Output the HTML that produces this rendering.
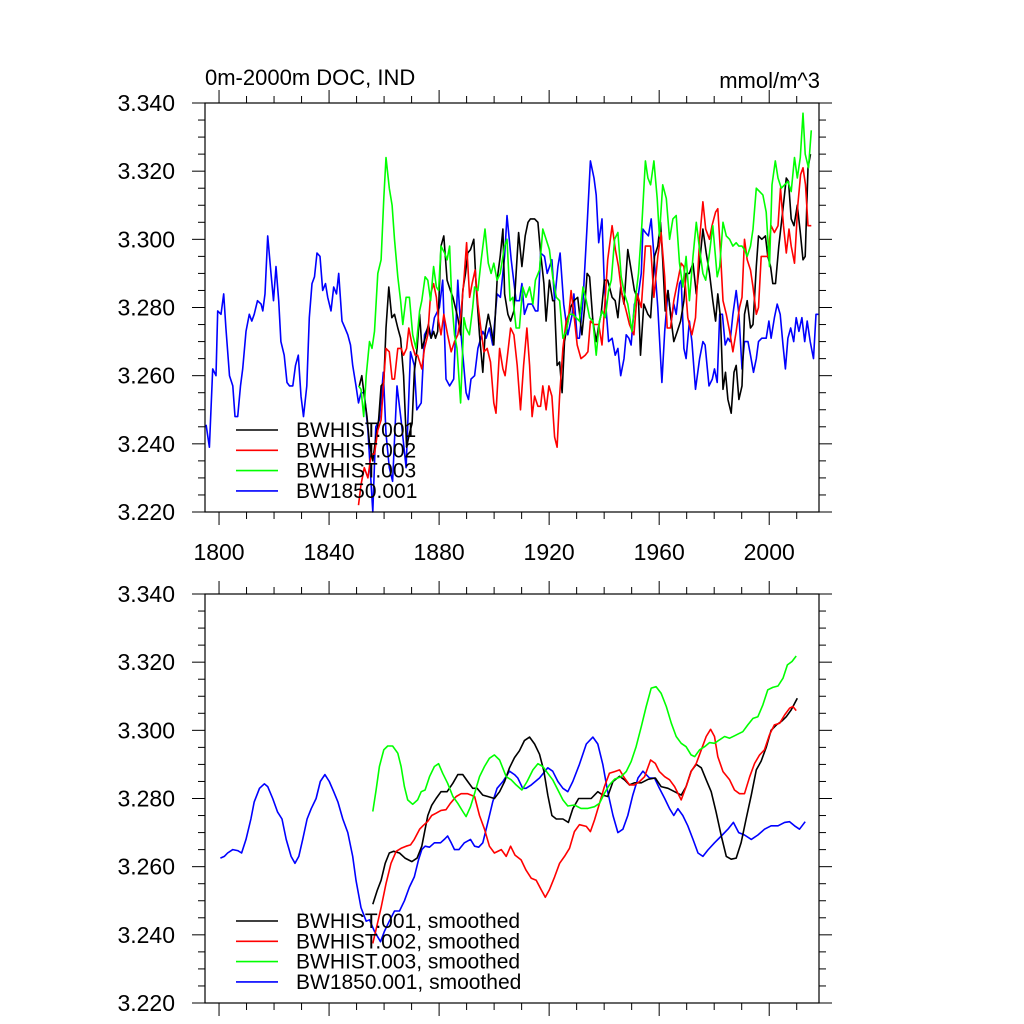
<!DOCTYPE html>
<html><head><meta charset="utf-8"><style>
html,body{margin:0;padding:0;background:#fff;}
svg{display:block;font-family:"Liberation Sans",Arial,sans-serif;}
</style></head><body>
<svg id="chart" width="1024" height="1024" viewBox="0 0 1024 1024" xmlns="http://www.w3.org/2000/svg"></svg>
<script>
// ---- data: annual (top panel) ----
const blueYears=[1795.3,1796.5,1797.7,1798.9,1799.5,1800.7,1801.7,1802.5,1803.8,1805,1805.8,1806.8,1807.8,1808.6,1809.8,1811,1811.9,1812.8,1814,1815.3,1815.9,1816.7,1817.7,1818.9,1819.8,1820.7,1821.7,1822.5,1823.7,1824.7,1825.6,1826.8,1827.8,1828.8,1829.8,1830.7,1831.9,1832.8,1833.8,1834.7,1835.6,1836.7,1837.7,1838.7,1839.5,1840.7,1841.7,1842.7,1843.5,1844.7,1845.8,1846.8,1847.8,1848.6,1849.8,1850.7,1851.6,1852.8,1854.1,1855.9,1857,1858.3,1859.7,1860.7,1861.9,1863.1,1864.7,1866.2,1868,1869.6,1871,1871.9,1873.5,1874.7,1875.9,1877.1,1878.3,1880.1,1881.3,1882.5,1883.8,1885.3,1886.8,1888,1889.8,1890.7,1891.6,1892.9,1894.1,1895.9,1897.1,1898.3,1899.5,1901.1,1902.3,1903.8,1904.7,1906.2,1908,1909.2,1910.1,1911,1912.3,1913.8,1915,1915.9,1916.9,1918.3,1919.3,1921,1922,1923.2,1924,1925.3,1926.8,1928.4,1929,1930.2,1931,1932.3,1933.8,1935,1936.3,1937.1,1938,1939.2,1940.1,1941.6,1942.9,1944,1945,1946,1947.2,1948,1949,1949.8,1951,1952.3,1953.5,1954.1,1955,1956.1,1957.1,1958.3,1959.5,1961,1962,1963.2,1964.4,1965.3,1966.2,1967.4,1968,1969,1969.8,1971,1971.9,1973.2,1974.7,1975.9,1976.7,1978.1,1979.3,1980.1,1981.1,1982,1983,1984,1985,1985.8,1986.8,1988,1989,1990.1,1991,1992.3,1993.2,1994.3,1995.3,1996.1,1997.3,1998.9,1999.9,2000.7,2001.9,2002.9,2004,2005,2005.9,2006.8,2007.8,2008.9,2009.8,2010.8,2011.9,2012.9,2013.8,2014.9,2016.1,2017,2017.9];
const blueVals=[3.2456,3.239,3.262,3.260,3.279,3.278,3.284,3.274,3.260,3.257,3.248,3.248,3.257,3.262,3.273,3.278,3.276,3.278,3.282,3.281,3.279,3.284,3.301,3.290,3.282,3.292,3.282,3.270,3.266,3.258,3.257,3.257,3.263,3.266,3.254,3.248,3.257,3.277,3.287,3.289,3.296,3.295,3.285,3.287,3.283,3.279,3.286,3.284,3.290,3.276,3.274,3.272,3.269,3.263,3.257,3.252,3.255,3.255,3.244,3.220,3.245,3.247,3.261,3.243,3.233,3.229,3.257,3.247,3.233,3.267,3.263,3.250,3.252,3.272,3.274,3.271,3.277,3.280,3.288,3.259,3.257,3.259,3.288,3.272,3.255,3.253,3.259,3.260,3.268,3.273,3.271,3.274,3.269,3.284,3.283,3.295,3.307,3.294,3.282,3.282,3.287,3.278,3.281,3.281,3.279,3.279,3.296,3.295,3.290,3.294,3.282,3.292,3.296,3.281,3.272,3.278,3.284,3.271,3.271,3.282,3.304,3.323,3.318,3.313,3.299,3.306,3.286,3.270,3.271,3.266,3.268,3.260,3.265,3.272,3.271,3.269,3.281,3.283,3.290,3.303,3.302,3.301,3.306,3.293,3.280,3.258,3.273,3.285,3.276,3.281,3.278,3.287,3.288,3.268,3.265,3.276,3.270,3.256,3.265,3.270,3.269,3.257,3.259,3.262,3.258,3.278,3.278,3.269,3.271,3.270,3.278,3.285,3.278,3.262,3.270,3.270,3.266,3.261,3.265,3.270,3.271,3.271,3.276,3.271,3.277,3.281,3.278,3.269,3.262,3.271,3.274,3.270,3.277,3.273,3.277,3.270,3.276,3.270,3.265,3.278,3.278];

const blackYears=[1851.0,1851.9,1852.8,1853.8,1854.7,1855.9,1856.7,1858,1858.9,1859.9,1860.7,1861.7,1862.8,1863.8,1865,1866,1867.1,1868.2,1869.2,1870.2,1871,1872,1872.9,1873.8,1874.9,1876.1,1877.1,1878,1878.7,1879.5,1880.7,1881.7,1882.9,1884.1,1885,1886.2,1886.8,1887.8,1888.6,1889.6,1890.4,1891.4,1892.6,1893.5,1894.7,1895.9,1896.8,1897.9,1898.9,1899.9,1901.1,1902.2,1903.2,1903.8,1905,1906,1907.2,1908,1908.9,1910.1,1911.3,1912.3,1913.2,1914.7,1915.9,1916.9,1918.1,1918.9,1920.1,1921.3,1921.9,1922.9,1923.8,1924.7,1925.6,1926.6,1927.8,1929,1930.4,1931.9,1932.9,1933.8,1934.7,1935.9,1937.1,1938.1,1938.9,1940.1,1941.3,1942.9,1944,1945,1946,1947.2,1948.6,1949.6,1951,1952.5,1953.2,1954.4,1955.9,1956.9,1958.3,1959.5,1960.5,1961.3,1962.2,1963.2,1964.4,1965.3,1966.6,1967.8,1969,1969.8,1971,1972.3,1973.5,1974.7,1975.9,1977.1,1978.3,1979.5,1980.5,1981.3,1982.3,1983.2,1984.1,1985,1986.2,1987.2,1988,1989,1990.1,1991,1992,1993.2,1994.1,1995.3,1996.1,1997.3,1998.6,1999.5,2000.5,2001.3,2002.3,2003.5,2005,2006.2,2007,2008,2009,2010.2,2011.3,2012.3,2013.1,2014.1,2015.0];
const blackVals=[3.257,3.260,3.254,3.248,3.240,3.235,3.240,3.247,3.257,3.258,3.274,3.286,3.277,3.278,3.274,3.271,3.260,3.239,3.243,3.246,3.261,3.268,3.278,3.268,3.271,3.275,3.271,3.273,3.271,3.273,3.298,3.301,3.288,3.285,3.283,3.279,3.277,3.272,3.285,3.290,3.296,3.297,3.300,3.286,3.272,3.261,3.273,3.278,3.274,3.269,3.288,3.295,3.303,3.284,3.278,3.276,3.279,3.290,3.302,3.292,3.301,3.305,3.306,3.306,3.305,3.296,3.287,3.276,3.288,3.282,3.282,3.263,3.264,3.255,3.270,3.275,3.280,3.282,3.283,3.272,3.280,3.290,3.289,3.276,3.270,3.275,3.278,3.288,3.288,3.283,3.282,3.277,3.286,3.281,3.297,3.292,3.285,3.282,3.266,3.281,3.278,3.277,3.295,3.298,3.305,3.294,3.279,3.285,3.276,3.270,3.273,3.276,3.282,3.290,3.290,3.293,3.284,3.293,3.303,3.296,3.290,3.282,3.276,3.284,3.277,3.256,3.261,3.253,3.249,3.261,3.263,3.253,3.257,3.278,3.282,3.274,3.275,3.292,3.301,3.300,3.301,3.295,3.292,3.287,3.287,3.298,3.309,3.318,3.317,3.306,3.304,3.310,3.302,3.294,3.295,3.321,3.325];

const redYears=[1850.7,1851.6,1852.8,1854.1,1855.3,1856.5,1857.7,1858.9,1859.9,1860.7,1861.9,1862.9,1863.8,1865,1866.2,1867.1,1868.2,1869,1870.2,1871.3,1872.2,1873.7,1874.7,1875.9,1876.9,1878,1879,1879.8,1880.7,1881.7,1883.1,1884.4,1885.6,1886.8,1887.8,1889,1890,1891.1,1892,1893.1,1894.1,1895.3,1896.3,1897.5,1898.7,1899.9,1900.7,1902,1903.2,1904,1905,1906,1907.2,1908.4,1909.6,1910.7,1911.9,1912.9,1913.8,1914.7,1915.9,1916.9,1917.7,1918.9,1919.9,1921,1922,1922.9,1923.8,1925,1926.2,1927.2,1928,1929,1930.2,1931.6,1933.1,1934.1,1935,1936.3,1937.1,1938,1939.2,1940.1,1941.3,1942.9,1944.1,1945.2,1946.4,1948,1949.2,1950.8,1952,1953.5,1955,1955.9,1956.9,1958.1,1959.5,1960.7,1962,1962.9,1964.1,1965.3,1966.8,1968,1969,1970.4,1971.9,1973.2,1974.7,1975.9,1976.9,1978.3,1979.2,1980.5,1981.3,1982.3,1983.2,1984.4,1985.6,1986.8,1988,1989.2,1990.1,1991,1992,1993.2,1994.1,1995.3,1996.1,1997.1,1998.3,1999.5,2000.7,2001.9,2003.2,2004.1,2005.2,2006.2,2007.2,2008,2009.2,2010.4,2011.4,2012.3,2013.2,2014.1,2015.3];
const redVals=[3.222,3.228,3.233,3.230,3.237,3.237,3.244,3.247,3.259,3.268,3.267,3.259,3.259,3.268,3.268,3.266,3.268,3.274,3.269,3.266,3.266,3.262,3.268,3.272,3.284,3.287,3.283,3.276,3.272,3.278,3.272,3.267,3.270,3.272,3.277,3.288,3.299,3.283,3.287,3.291,3.281,3.273,3.267,3.268,3.264,3.252,3.249,3.268,3.262,3.260,3.267,3.274,3.272,3.263,3.250,3.263,3.274,3.263,3.248,3.254,3.251,3.251,3.257,3.250,3.257,3.254,3.242,3.239,3.254,3.268,3.276,3.278,3.285,3.278,3.269,3.265,3.266,3.267,3.276,3.275,3.275,3.275,3.269,3.279,3.294,3.304,3.297,3.292,3.284,3.279,3.275,3.272,3.284,3.280,3.298,3.298,3.298,3.283,3.295,3.302,3.289,3.274,3.274,3.282,3.288,3.293,3.292,3.277,3.272,3.277,3.300,3.311,3.303,3.300,3.304,3.308,3.309,3.296,3.282,3.278,3.273,3.267,3.273,3.280,3.283,3.300,3.294,3.291,3.286,3.278,3.280,3.295,3.295,3.295,3.304,3.302,3.304,3.315,3.304,3.296,3.303,3.298,3.293,3.310,3.319,3.321,3.316,3.304,3.304];

const greenYears=[1850.7,1851.6,1852.6,1853.5,1854.7,1855.6,1856.5,1857.7,1858.9,1859.9,1860.7,1861.9,1862.9,1863.8,1865,1866,1866.8,1868,1869.2,1870.4,1871.6,1872.9,1873.7,1874.9,1875.9,1876.9,1878,1879,1879.8,1880.7,1882,1882.9,1883.8,1884.6,1885.6,1886.5,1887.8,1889,1889.8,1891,1892.2,1892.9,1894.1,1895.3,1896.7,1897.9,1898.9,1899.9,1901.1,1902.2,1903.8,1904.7,1905.8,1906.8,1908,1909.2,1910.4,1911.6,1912.9,1914.1,1915,1916.5,1917.7,1918.9,1920.1,1921.3,1922.6,1923.8,1925,1926.2,1927.4,1928.6,1929.8,1931,1932.3,1933.5,1934.7,1935.9,1937.1,1938.3,1939.3,1940.4,1941.6,1942.6,1943.8,1945,1946.2,1947.4,1948.6,1950.1,1951.3,1952.5,1953.7,1955,1955.9,1956.9,1958.1,1959.3,1960.1,1961.3,1962.6,1963.8,1965,1966.2,1967.4,1968.6,1969.8,1971,1972.3,1973.5,1974.7,1975.9,1976.9,1978.3,1979.5,1981.1,1982,1983.2,1984.4,1985.6,1986.8,1988,1989,1990.1,1991,1992,1993.2,1994.1,1995.3,1996.5,1997.7,1998.9,2000.1,2001,2002.2,2003.2,2004.4,2005.6,2006.8,2008,2009.2,2010.2,2011.3,2012.3,2013.1,2014.3,2015.3];
const greenVals=[3.257,3.256,3.248,3.260,3.270,3.268,3.273,3.290,3.294,3.312,3.324,3.315,3.310,3.300,3.289,3.282,3.275,3.283,3.283,3.272,3.268,3.279,3.282,3.289,3.288,3.282,3.292,3.286,3.285,3.298,3.296,3.294,3.298,3.282,3.272,3.268,3.252,3.277,3.274,3.272,3.280,3.286,3.285,3.294,3.303,3.293,3.290,3.293,3.288,3.290,3.298,3.300,3.282,3.283,3.274,3.274,3.286,3.283,3.286,3.281,3.288,3.291,3.303,3.300,3.297,3.289,3.283,3.282,3.271,3.273,3.278,3.278,3.277,3.276,3.286,3.282,3.277,3.276,3.266,3.276,3.279,3.277,3.285,3.288,3.300,3.302,3.289,3.284,3.281,3.273,3.282,3.290,3.304,3.323,3.318,3.316,3.323,3.312,3.301,3.316,3.312,3.300,3.306,3.307,3.293,3.286,3.295,3.282,3.295,3.305,3.297,3.290,3.288,3.296,3.304,3.289,3.292,3.305,3.301,3.300,3.298,3.299,3.298,3.298,3.297,3.295,3.298,3.303,3.315,3.314,3.313,3.308,3.292,3.316,3.323,3.318,3.315,3.316,3.317,3.314,3.324,3.318,3.324,3.337,3.325,3.321,3.332];

// ---- data: smoothed (bottom panel) ----
const sBlueYears=[1800.5,1801.9,1803.1,1805,1806.8,1808.2,1809.8,1811.6,1812.8,1814.7,1816.5,1817.7,1819.5,1821.3,1822.9,1824.4,1826.2,1827.6,1829,1830.4,1832,1833.5,1835.3,1836.8,1838.5,1840.1,1841.7,1843.2,1845,1846.8,1848.6,1849.8,1851.6,1853.5,1854.7,1856.5,1858.7,1860.1,1861.9,1863.8,1865.6,1867.4,1869.2,1871,1872.5,1873.7,1874.9,1876.5,1878.3,1880.5,1881.9,1883.1,1884.4,1885.6,1887.2,1889.2,1891.4,1892.9,1894.4,1895.9,1897.7,1899.5,1901.1,1903.2,1905.6,1907.4,1908.6,1910.4,1911.6,1913.5,1916.5,1919.5,1921.3,1923.2,1925,1926.8,1928.6,1931,1933.5,1935.9,1937.7,1939.5,1941.3,1943.2,1945,1946.8,1948.6,1950.4,1952.3,1954.1,1956.5,1958.3,1960.1,1962,1963.8,1965.3,1966.8,1968.6,1970.4,1972.3,1974.1,1975.9,1977.7,1980.1,1982.6,1985,1987,1988.9,1991,1993.5,1995.9,1998.3,2000.7,2003.2,2005.6,2007.4,2009.2,2011,2013.1];
const sBlueVals=[3.2625,3.263,3.264,3.265,3.2647,3.264,3.268,3.274,3.279,3.283,3.2843,3.2835,3.280,3.276,3.274,3.268,3.263,3.261,3.263,3.268,3.274,3.277,3.280,3.285,3.287,3.285,3.282,3.279,3.274,3.270,3.263,3.256,3.248,3.244,3.2444,3.241,3.238,3.241,3.244,3.247,3.247,3.250,3.254,3.257,3.262,3.265,3.266,3.2657,3.267,3.267,3.268,3.269,3.267,3.265,3.265,3.267,3.268,3.266,3.2657,3.267,3.273,3.279,3.283,3.285,3.288,3.287,3.286,3.283,3.283,3.284,3.286,3.289,3.288,3.285,3.283,3.282,3.285,3.290,3.296,3.298,3.296,3.290,3.282,3.275,3.270,3.271,3.275,3.281,3.286,3.288,3.286,3.286,3.283,3.280,3.277,3.275,3.277,3.275,3.272,3.268,3.264,3.263,3.2649,3.267,3.269,3.271,3.273,3.270,3.2693,3.268,3.2693,3.271,3.272,3.272,3.273,3.2732,3.272,3.271,3.2732];

const sBlackYears=[1855.9,1857.5,1858.9,1860.4,1861.9,1863.5,1865.6,1867.6,1870.1,1872,1873.7,1875.9,1877.3,1878.9,1880.7,1882.9,1885,1886.8,1888.6,1890.4,1892.2,1893.8,1895.9,1897.7,1900.1,1902,1903.8,1905.6,1907.4,1909.2,1911,1912.9,1914.7,1916.5,1918.1,1919.5,1921,1922.6,1925,1927,1928.6,1930.7,1932.9,1935.3,1937.7,1939.5,1941.3,1943.2,1945.6,1947.4,1949.2,1951,1953.5,1955.9,1958.6,1960.7,1963.2,1965.6,1968,1969.8,1971.6,1973.5,1975.3,1977.1,1978.9,1980.7,1982.6,1984.4,1986.2,1988,1989.8,1991.6,1993.5,1995.3,1997.1,1998.9,2000.7,2002.6,2004.4,2006.2,2008,2010.2];
const sBlackVals=[3.249,3.253,3.256,3.261,3.2640,3.2645,3.264,3.2625,3.2615,3.2625,3.266,3.275,3.278,3.280,3.282,3.282,3.2845,3.287,3.287,3.285,3.283,3.283,3.281,3.2806,3.280,3.282,3.285,3.289,3.292,3.294,3.297,3.298,3.296,3.293,3.288,3.281,3.275,3.274,3.274,3.273,3.277,3.280,3.280,3.280,3.282,3.281,3.2806,3.285,3.2865,3.2855,3.284,3.2846,3.2846,3.2856,3.286,3.2835,3.283,3.282,3.281,3.2835,3.288,3.290,3.289,3.2855,3.282,3.276,3.269,3.263,3.2622,3.2625,3.267,3.274,3.281,3.2884,3.291,3.295,3.300,3.3016,3.3026,3.304,3.306,3.3094];

const sRedYears=[1855.9,1857.5,1858.9,1860.7,1862.5,1864.4,1866.2,1868,1869.6,1871,1872.9,1874.1,1875.9,1877.3,1878.9,1880.7,1882.5,1884.1,1886.2,1888,1890.4,1892.9,1894.7,1896.5,1898.3,1900.1,1902.6,1904.4,1906,1907.6,1909.8,1911.6,1913.5,1915.3,1917.1,1918.6,1920.1,1922,1923.8,1925.6,1927.4,1929.2,1931,1933.5,1935,1936.5,1938.3,1940.1,1941.9,1943.8,1945.6,1947.4,1949.2,1951,1952.9,1954.7,1956.9,1958.6,1960.1,1962,1963.8,1965.6,1968,1969.8,1971.6,1973.5,1975.3,1977.1,1978.7,1980.1,1981.3,1983.2,1985.6,1987.4,1989.2,1991,1992.9,1994.7,1996.5,1998.3,2000.1,2001.9,2003.8,2005.6,2007.4,2008.6,2009.8];
const sRedVals=[3.2375,3.243,3.248,3.255,3.261,3.2645,3.2654,3.266,3.2664,3.268,3.271,3.272,3.2733,3.275,3.2757,3.2765,3.2767,3.2786,3.2806,3.2814,3.2814,3.2806,3.275,3.271,3.266,3.264,3.265,3.263,3.266,3.2634,3.2620,3.259,3.2566,3.256,3.2532,3.251,3.2532,3.257,3.261,3.2630,3.2654,3.2703,3.2723,3.2718,3.2703,3.2737,3.2786,3.2835,3.2874,3.2879,3.2884,3.2860,3.2840,3.284,3.285,3.2864,3.2913,3.2903,3.2879,3.2864,3.2855,3.2835,3.2796,3.2835,3.2879,3.2903,3.2943,3.2982,3.3003,3.2982,3.2923,3.2879,3.2855,3.2825,3.2814,3.2814,3.2864,3.2903,3.2928,3.2943,3.2987,3.3016,3.3021,3.3045,3.3065,3.3070,3.3058];

const sGreenYears=[1855.9,1857.1,1858.3,1859.9,1861.3,1863.1,1865,1866.2,1867.4,1868.6,1870.4,1872.2,1873.5,1874.9,1876.5,1878.3,1879.8,1881.3,1883.1,1885,1886.8,1888.6,1889.8,1891.4,1892.9,1894.7,1896.5,1898.3,1900.1,1902,1904.4,1906.2,1908,1910.1,1912,1914.1,1915.9,1917.7,1919.5,1921.3,1923.2,1925,1926.8,1929.2,1931.6,1934.1,1936.5,1938.3,1940.1,1941.9,1943.8,1946.2,1948,1949.8,1951.6,1953.5,1955.3,1957.1,1958.9,1960.7,1962.6,1964.4,1966.2,1968,1969.8,1971.6,1972.9,1974.7,1976.5,1978.3,1980.1,1981.9,1983.8,1985.6,1987.4,1988.9,1990.4,1992.2,1994.1,1995.9,1997.7,1999.5,2001.3,2003.2,2005,2006.6,2008.3,2009.8];
const sGreenVals=[3.2762,3.2825,3.2894,3.2943,3.2954,3.2954,3.2933,3.2894,3.2835,3.2796,3.2783,3.2796,3.2820,3.2825,3.2864,3.2894,3.2902,3.2874,3.2845,3.2806,3.2786,3.2762,3.2747,3.2776,3.2815,3.2864,3.2894,3.2918,3.2928,3.2913,3.2864,3.2855,3.2840,3.2825,3.2850,3.2884,3.2902,3.2894,3.2874,3.2855,3.2825,3.2796,3.2778,3.2781,3.2771,3.2771,3.2776,3.2786,3.2815,3.2840,3.2857,3.2864,3.2879,3.2908,3.2952,3.3011,3.3070,3.3124,3.3128,3.3109,3.3070,3.3021,3.2982,3.2962,3.2952,3.2928,3.2923,3.2943,3.2952,3.2964,3.2962,3.2972,3.2982,3.2977,3.2984,3.2990,3.2996,3.3016,3.3035,3.3040,3.3075,3.3119,3.3126,3.3130,3.3153,3.3192,3.3202,3.3218];

const yTickVals=[3.220,3.240,3.260,3.280,3.300,3.320,3.340];
const yTickLabels=["3.220","3.240","3.260","3.280","3.300","3.320","3.340"];
const xTickVals=[1800,1840,1880,1920,1960,2000];
const xTickLabels=["1800","1840","1880","1920","1960","2000"];

const NS="http://www.w3.org/2000/svg";
const svg=document.getElementById('chart');
const X0=205,X1=819,XMIN=1794.9,XMAX=2018.1,YMIN=3.22,YMAX=3.34;
function xs(yr){return X0+(yr-XMIN)/(XMAX-XMIN)*(X1-X0);}
function mk(tag,attrs,parent){const e=document.createElementNS(NS,tag);for(const k in attrs)e.setAttribute(k,attrs[k]);(parent||svg).appendChild(e);return e;}

function panel(top,bottom,name,showXLabels,series,legend,legendY){
  const g=mk('g',{});
  
  
  const ys=v=>bottom-(v-YMIN)/(YMAX-YMIN)*(bottom-top);
  for(let v=YMIN;v<=YMAX+1e-9;v+=0.005){
    const major=Math.abs(Math.round(v*1000)%20)<1e-6;
    const len=major?13:7, y=ys(v);
    mk('line',{x1:X0-len,x2:X0,y1:y,y2:y,stroke:'#000','stroke-width':1},g);
    mk('line',{x1:X1,x2:X1+len,y1:y,y2:y,stroke:'#000','stroke-width':1},g);
  }
  yTickVals.forEach((v,i)=>{
    const t=mk('text',{x:175,y:ys(v)+8,'text-anchor':'end','font-size':23,fill:'#000'},g);
    t.textContent=yTickLabels[i];
    
    
  });
  for(let yr=1800;yr<=2010;yr+=10){
    const major=yr%40===0, len=major?13:7, x=xs(yr);
    mk('line',{x1:x,x2:x,y1:top-len,y2:top,stroke:'#000','stroke-width':1},g);
    mk('line',{x1:x,x2:x,y1:bottom,y2:bottom+len,stroke:'#000','stroke-width':1},g);
  }
  if(showXLabels){
    xTickVals.forEach((v,i)=>{
      const t=mk('text',{x:xs(v),y:560,'text-anchor':'middle','font-size':23,fill:'#000'},g);
      t.textContent=xTickLabels[i];
      
      
    });
  }
  series.forEach(s=>{
    const d=s.years.map((yr,i)=>(i?'L':'M')+xs(yr).toFixed(1)+' '+ys(s.vals[i]).toFixed(1)).join(' ');
    const p=mk('path',{d:d,fill:'none',stroke:s.color,'stroke-width':1.6,'stroke-linejoin':'round'},g);
    
    
  });
  const fr=mk('rect',{x:X0,y:top,width:X1-X0,height:bottom-top,fill:'none',stroke:'#000','stroke-width':1.2},g);
  
  
  const lg=mk('g',{},g);
  
  
  legend.forEach((l,i)=>{
    const y=legendY+i*20.3;
    const e=mk('g',{},lg);
    
    
    mk('line',{x1:236,x2:278,y1:y,y2:y,stroke:l.color,'stroke-width':1.6},e);
    const t=mk('text',{x:296,y:y+7,'font-size':21,fill:'#000'},e);
    t.textContent=l.label;
  });
}

panel(103,512,'annual-panel',true,[
  {name:'series-bw1850-001',color:'#0000ff',years:blueYears,vals:blueVals},
  {name:'series-bwhist-001',color:'#000000',years:blackYears,vals:blackVals},
  {name:'series-bwhist-002',color:'#ff0000',years:redYears,vals:redVals},
  {name:'series-bwhist-003',color:'#00ff00',years:greenYears,vals:greenVals}
],[
  {color:'#000',label:'BWHIST.001'},{color:'#ff0000',label:'BWHIST.002'},
  {color:'#00ff00',label:'BWHIST.003'},{color:'#0000ff',label:'BW1850.001'}
],430);

panel(594,1003,'smoothed-panel',false,[
  {name:'smoothed-bw1850-001',color:'#0000ff',years:sBlueYears,vals:sBlueVals},
  {name:'smoothed-bwhist-001',color:'#000000',years:sBlackYears,vals:sBlackVals},
  {name:'smoothed-bwhist-002',color:'#ff0000',years:sRedYears,vals:sRedVals},
  {name:'smoothed-bwhist-003',color:'#00ff00',years:sGreenYears,vals:sGreenVals}
],[
  {color:'#000',label:'BWHIST.001, smoothed'},{color:'#ff0000',label:'BWHIST.002, smoothed'},
  {color:'#00ff00',label:'BWHIST.003, smoothed'},{color:'#0000ff',label:'BW1850.001, smoothed'}
],921);

const title=mk('text',{x:205,y:85,'font-size':22,fill:'#000'});
title.textContent='0m-2000m DOC, IND';


const units=mk('text',{x:820,y:88,'font-size':22,fill:'#000','text-anchor':'end'});
units.textContent='mmol/m^3';


</script>
</body></html>
